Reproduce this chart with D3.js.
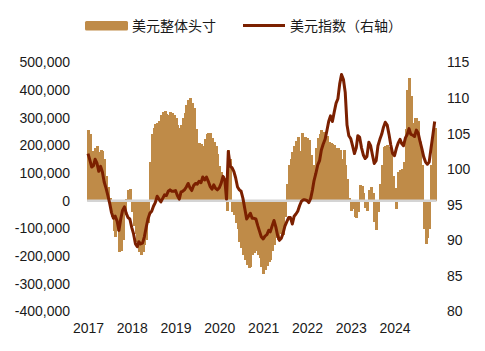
<!DOCTYPE html>
<html>
<head>
<meta charset="utf-8">
<script src="https://cdn.jsdelivr.net/npm/d3@7"></script>
<style>
  html, body { margin: 0; padding: 0; background: #ffffff; }
  svg { display: block; }
  text { font-family: "Liberation Sans", Arial, sans-serif; fill: #1a1a1a; }
  .cjk { font-family: "Noto Sans CJK SC", "Noto Sans", sans-serif; }
</style>
</head>
<body>
<div id="chart"></div>
<script>
// ---- Data (semi-monthly, starting 2017-01-01: 1st and 16th of each month) ----
const startYear = 2017;
const seriesNames = ["美元整体头寸", "美元指数（右轴）"];

// USD aggregate net position (contracts)
const netPosition = [
  256000, 240000, 180000, 145000, 190000, 200000, 178000, 184000, 180000, 150000,
  90000, 50000, 10000, -60000, -110000, -130000, -110000, -184000, -180000, -140000,
  -50000, 8000, 40000, 42000, -40000, -90000, -120000, -150000, -185000, -195000,
  -185000, -160000, -140000, -80000, 140000, 240000, 265000, 278000, 282000, 290000,
  310000, 322000, 326000, 315000, 310000, 320000, 318000, 310000, 300000, 275000,
  262000, 275000, 300000, 316000, 345000, 365000, 370000, 355000, 335000, 260000,
  210000, 210000, 205000, 200000, 225000, 240000, 244000, 244000, 228000, 212000,
  200000, 170000, 125000, 105000, 90000, 40000, -35000, 185000, 150000, -40000,
  -50000, -80000, -100000, -148000, -170000, -195000, -215000, -232000, -244000, -240000,
  -196000, -190000, -180000, -196000, -208000, -240000, -265000, -250000, -235000, -220000,
  -215000, -180000, -160000, -135000, -140000, -112000, -120000, -124000, -60000, 60000,
  130000, 150000, 178000, 200000, 215000, 232000, 180000, 244000, 232000, 232000,
  226000, 220000, 166000, 129000, 85000, 190000, 226000, 240000, 256000, 250000,
  240000, 235000, 214000, 208000, 205000, 202000, 192000, 190000, 184000, 150000,
  184000, 130000, 80000, 10000, -35000, -30000, -60000, -63000, -40000, 57000,
  55000, 30000, -25000, -35000, 40000, 51000, 30000, -75000, -105000, -40000,
  60000, 130000, 196000, 200000, 202000, 196000, 190000, 90000, 45000, -30000,
  105000, 110000, 115000, 140000, 260000, 400000, 445000, 380000, 280000, 298000,
  300000, 290000, 214000, 129000, -100000, -157000, -136000, -100000, 129000, 230000,
  262000
];

// US dollar index (right axis)
const dollarIndex = [
  102.2, 101.3, 100.3, 100.5, 101.4, 100.9, 99.7, 100.4, 99.6, 98.2,
  97.3, 96.3, 95.2, 93.9, 93.1, 93.4, 92.7, 91.4, 93.0, 94.2,
  94.7, 93.8, 93.2, 93.0, 91.8, 90.9, 89.5, 89.1, 89.8, 89.5,
  89.6, 90.5, 91.8, 93.0, 93.8, 94.1, 94.8, 95.3, 96.2, 95.8,
  95.4, 95.9, 96.4, 96.3, 96.9, 97.1, 96.9, 96.9, 97.0, 96.3,
  95.8, 96.8, 96.9, 97.1, 97.5, 98.0, 97.4, 97.0, 97.7, 98.0,
  97.9, 98.3, 98.1, 98.9, 98.5, 98.9, 98.3, 97.6, 97.2, 97.8,
  97.3, 97.1, 97.4, 98.0, 99.0, 98.5, 95.8, 102.5, 100.4, 100.2,
  99.7, 98.8, 97.5, 97.1, 96.9, 95.9, 94.4, 93.0, 93.4, 93.8,
  93.1, 93.1, 93.0, 92.1, 91.3, 90.5, 90.2, 90.6, 90.8, 91.4,
  91.2, 92.0, 92.8, 91.9, 90.7, 90.0, 90.3, 91.0, 92.0, 92.6,
  93.2, 93.2, 92.3, 93.4, 93.7, 94.1, 94.9, 95.5, 95.7, 95.7,
  95.6, 95.3, 95.9, 97.1, 98.4, 99.4, 100.6, 101.2, 102.7, 103.5,
  104.2, 105.4, 106.7, 107.5, 106.7, 108.0, 109.3, 109.9, 112.0, 113.3,
  112.6, 110.8, 106.2, 104.7, 104.3, 103.3, 102.2, 103.0, 104.7, 104.5,
  103.0, 102.0, 101.5, 101.8, 103.8, 103.3, 102.0, 100.8, 101.2, 103.3,
  104.2, 104.9, 105.9, 106.6, 106.2, 104.9, 103.4, 102.2, 101.9, 102.9,
  103.7, 104.2, 103.6, 103.3, 104.4, 104.9, 105.7, 104.9, 104.8, 104.6,
  105.5, 105.1, 103.9, 102.9, 101.7, 101.0, 100.7, 101.0, 103.0, 104.8,
  106.7
];

const leftTicks = [500000, 400000, 300000, 200000, 100000, 0, -100000, -200000, -300000, -400000];
const rightTicks = [115, 110, 105, 100, 95, 90, 85, 80];
const yearTicks = [2017, 2018, 2019, 2020, 2021, 2022, 2023, 2024];

// ---- Build dated records ----
function periodDate(i) {
  const y = startYear + Math.floor(i / 24);
  const m = Math.floor((i % 24) / 2);
  const d = (i % 2 === 0) ? 1 : 16;
  return new Date(y, m, d);
}
const records = netPosition.map((v, i) => ({ date: periodDate(i), pos: v, dxy: dollarIndex[i] }));

// ---- Layout ----
const W = 485, H = 351;
const colors = { bar: "#BF8B48", line: "#7B2000", base: "#D4D4D4" };

const svg = d3.select("#chart").append("svg")
  .attr("width", W).attr("height", H);

const x = d3.scaleTime()
  .domain([new Date(2017, 0, 1), new Date(2025, 0, 1)])
  .range([88, 88 + 8 * 43.8]);
const yL = d3.scaleLinear().domain([-400000, 500000]).range([311.5, 62.5]);
const yR = d3.scaleLinear().domain([80, 115]).range([311.5, 62.5]);

const step = x(periodDate(1)) - x(periodDate(0));
const bw = step + 1.2;

// Bars
svg.append("g").attr("shape-rendering", "crispEdges").selectAll("rect")
  .data(records)
  .join("rect")
  .attr("x", d => x(d.date) - step / 2)
  .attr("width", bw)
  .attr("y", d => Math.min(yL(d.pos), yL(0)))
  .attr("height", d => Math.abs(yL(d.pos) - yL(0)))
  .attr("fill", colors.bar);

// Zero baseline
svg.append("line")
  .attr("x1", x(records[0].date) - step / 2)
  .attr("x2", x(records[records.length - 1].date) + step / 2 + 1)
  .attr("y1", yL(0)).attr("y2", yL(0))
  .attr("stroke", colors.base).attr("stroke-width", 2.5);

// Dollar index line
const line = d3.line().x(d => x(d.date)).y(d => yR(d.dxy));
svg.append("path")
  .datum(records)
  .attr("d", line)
  .attr("fill", "none")
  .attr("stroke", colors.line)
  .attr("stroke-width", 3)
  .attr("stroke-linejoin", "round");

// Axes
const fmt = v => d3.format(",")(v).replace("\u2212", "-");
const axL = svg.append("g").attr("transform", "translate(87,0)")
  .call(d3.axisLeft(yL).tickValues(leftTicks).tickFormat(fmt).tickSize(0).tickPadding(17));
const axR = svg.append("g").attr("transform", "translate(436,0)")
  .call(d3.axisRight(yR).tickValues(rightTicks).tickFormat(d3.format("d")).tickSize(0).tickPadding(11));
const axB = svg.append("g").attr("transform", "translate(0,323)")
  .call(d3.axisBottom(x).tickValues(yearTicks.map(yv => new Date(yv, 0, 1)))
    .tickFormat(d3.timeFormat("%Y")).tickSize(0).tickPadding(0));
[axL, axR, axB].forEach(a => {
  a.select(".domain").remove();
  a.selectAll("text").attr("font-size", 14)
    .attr("font-family", "'Liberation Sans', Arial, sans-serif").attr("fill", "#1a1a1a");
});

// Legend
const lg = svg.append("g");
lg.append("rect").attr("x", 85).attr("y", 21).attr("width", 43).attr("height", 9.5)
  .attr("rx", 1.5).attr("fill", colors.bar);
lg.append("text").attr("class", "cjk").attr("x", 132).attr("y", 31)
  .attr("font-size", 14).text(seriesNames[0]);
lg.append("line").attr("x1", 243).attr("x2", 285).attr("y1", 25.5).attr("y2", 25.5)
  .attr("stroke", colors.line).attr("stroke-width", 3);
lg.append("text").attr("class", "cjk").attr("x", 290).attr("y", 31)
  .attr("font-size", 14).text(seriesNames[1]);
</script>
</body>
</html>
